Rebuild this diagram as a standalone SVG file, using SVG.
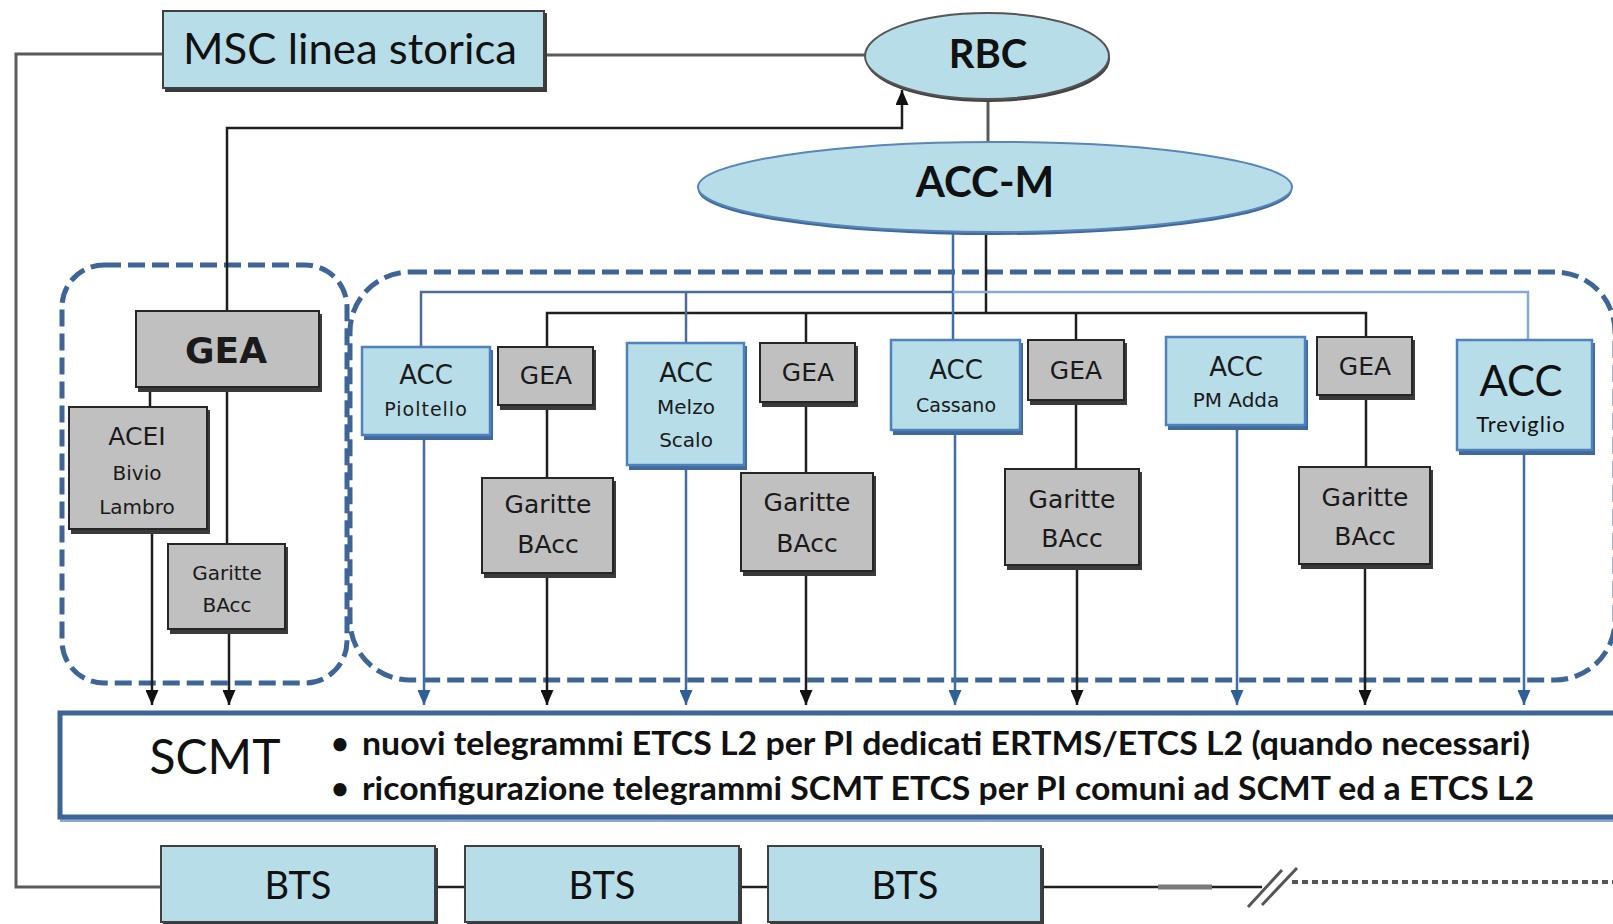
<svg xmlns="http://www.w3.org/2000/svg" width="1613" height="924" viewBox="0 0 1613 924">
<style>
.cal{font-family:Lato,"Open Sans","Liberation Sans",sans-serif;fill:#111}
.ver{font-family:"DejaVu Sans",Verdana,"Liberation Sans",sans-serif;fill:#1a1a1a}
.mid{text-anchor:middle}
.blue{fill:#b7dee8;stroke:#404040;stroke-width:2}
.blueacc{fill:#b7dee8;stroke:#4f81bd;stroke-width:2.5}
.gray{fill:#c0c0c0;stroke:#262626;stroke-width:2}
.shd{fill:#3a3a3a}
.shdb{fill:#3f6a9b}
.cont{fill:none;stroke:#3e6596;stroke-width:5;stroke-dasharray:17 7}
.k{fill:none;stroke:#1e1e1e;stroke-width:2.5}
.g{fill:none;stroke:#5a5a5a;stroke-width:3}
.b{fill:none;stroke:#3f6ea6;stroke-width:2.5}
.bl{fill:none;stroke:#86a9d6;stroke-width:2.5}
.bd{fill:none;stroke:#4a6c9a;stroke-width:2.5}
</style>
<defs>
<marker id="ak" markerUnits="userSpaceOnUse" markerWidth="15" markerHeight="13" viewBox="0 0 15 13" refX="15" refY="6.5" orient="auto"><path d="M0,0 L15,6.5 L0,13 z" fill="#111"/></marker>
<marker id="ab" markerUnits="userSpaceOnUse" markerWidth="15" markerHeight="13" viewBox="0 0 15 13" refX="15" refY="6.5" orient="auto"><path d="M0,0 L15,6.5 L0,13 z" fill="#2f5f99"/></marker>
</defs>

<!-- containers -->
<g id="containers">
<rect class="cont" x="62" y="265" width="285" height="418" rx="42"/>
<rect class="cont" x="350" y="272" width="1265" height="408" rx="60"/>
</g>

<!-- connectors -->
<g id="connectors">
<path class="g" d="M545,55 H866"/>
<path class="g" d="M163,54 H16 V887 H161"/>
<path class="k" d="M227,311 V128 H902 V90" marker-end="url(#ak)"/>
<path class="g" d="M988,99 V144" stroke-width="2"/>
<!-- ACC-M to black bus -->
<path class="k" d="M986,232 V313"/>
<path class="k" d="M547,347 V313 H1366 V337"/>
<path class="k" d="M806,313 V343"/>
<path class="k" d="M1076,313 V340"/>
<!-- blue bus -->
<path class="b" d="M953,233 V340" stroke="#5b8ccc"/>
<path class="bd" d="M421,347 V292 H953"/>
<path class="bd" d="M686,292 V343" stroke="#7ea3d3"/>
<path class="bl" d="M953,292 H1528 V340"/>
<!-- left container -->
<path class="k" d="M150,389 V407" stroke-width="2"/>
<path class="k" d="M227,389 V544" stroke-width="2"/>
<path class="k" d="M152,531 V705" marker-end="url(#ak)"/>
<path class="k" d="M229,631 V705" marker-end="url(#ak)"/>
<!-- GEA to Garitte -->
<path class="k" d="M547,407 V478"/>
<path class="k" d="M806,404 V473"/>
<path class="k" d="M1076,402 V469"/>
<path class="k" d="M1366,397 V467"/>
<!-- to SCMT -->
<path class="k" d="M547,575 V705" marker-end="url(#ak)"/>
<path class="k" d="M806,573 V705" marker-end="url(#ak)"/>
<path class="k" d="M1077,567 V705" marker-end="url(#ak)"/>
<path class="k" d="M1365,566 V705" marker-end="url(#ak)"/>
<path class="b" d="M424,437 V705" marker-end="url(#ab)"/>
<path class="b" d="M686,467 V705" marker-end="url(#ab)"/>
<path class="b" d="M955,432 V705" marker-end="url(#ab)"/>
<path class="b" d="M1237,427 V705" marker-end="url(#ab)"/>
<path class="b" d="M1524,452 V705" marker-end="url(#ab)"/>
<!-- BTS chain -->
<path class="k" d="M436,887 H465"/>
<path class="k" d="M740,887 H768"/>
<path class="k" d="M1042,887 H1262" stroke="#333"/>
<path d="M1158,887 H1212" stroke="#7a7a7a" stroke-width="5" fill="none"/>
<path d="M1248,907 L1282,870 M1262,905 L1297,868" stroke="#555" stroke-width="3" fill="none"/>
<path d="M1292,882 H1613" stroke="#555" stroke-width="4" stroke-dasharray="6 4" fill="none"/>
</g>

<!-- top nodes -->
<g id="msc">
<rect class="shd" x="165" y="13" width="382" height="79" fill="#444"/>
<rect class="blue" x="163" y="11" width="381" height="77"/>
<text class="cal mid" x="350" y="64" font-size="42" textLength="334" lengthAdjust="spacingAndGlyphs">MSC linea storica</text>
</g>
<g id="rbc">
<ellipse cx="988" cy="59" rx="122" ry="43" fill="#444"/>
<ellipse cx="987" cy="56" rx="122" ry="43" fill="#b7dee8" stroke="#555" stroke-width="2"/>
<text class="cal mid" x="988" y="68" font-size="40" font-weight="bold">RBC</text>
</g>
<g id="accm">
<ellipse cx="995" cy="190" rx="297" ry="45" fill="#3f6a9b"/>
<ellipse cx="995" cy="187" rx="297" ry="45" fill="#b7dee8" stroke="#5a85b8" stroke-width="2"/>
<text class="cal mid" x="985" y="197" font-size="42" font-weight="bold">ACC-M</text>
</g>

<!-- left container nodes -->
<g id="gea-main">
<rect class="shd" x="138" y="314" width="184" height="78"/>
<rect class="gray" x="136" y="311" width="183" height="76"/>
<text class="ver mid" x="226" y="363" font-size="36" font-weight="bold">GEA</text>
</g>
<g id="acei">
<rect class="shd" x="71" y="410" width="139" height="124"/>
<rect class="gray" x="69" y="407" width="138" height="122"/>
<text class="ver mid" x="137" y="445" font-size="25">ACEI</text>
<text class="ver mid" x="137" y="480" font-size="20">Bivio</text>
<text class="ver mid" x="137" y="514" font-size="20">Lambro</text>
</g>
<g id="garitte-lambro">
<rect class="shd" x="170" y="547" width="118" height="87"/>
<rect class="gray" x="168" y="544" width="117" height="85"/>
<text class="ver mid" x="227" y="580" font-size="20">Garitte</text>
<text class="ver mid" x="227" y="612" font-size="20">BAcc</text>
</g>

<!-- right container nodes -->
<g id="acc-pioltello">
<rect class="shdb" x="364" y="350" width="129" height="90"/>
<rect class="blueacc" x="362" y="347" width="128" height="88"/>
<text class="ver mid" x="426" y="384" font-size="26">ACC</text>
<text class="ver mid" x="426" y="416" font-size="19" letter-spacing="1">Pioltello</text>
</g>
<g id="gea-2">
<rect class="shd" x="500" y="350" width="96" height="60"/>
<rect class="gray" x="498" y="347" width="95" height="58"/>
<text class="ver mid" x="546" y="384" font-size="25">GEA</text>
</g>
<g id="garitte-2">
<rect class="shd" x="484" y="481" width="132" height="97"/>
<rect class="gray" x="482" y="478" width="131" height="95"/>
<text class="ver mid" x="548" y="513" font-size="25">Garitte</text>
<text class="ver mid" x="548" y="553" font-size="25">BAcc</text>
</g>
<g id="acc-melzo">
<rect class="shdb" x="629" y="346" width="118" height="124"/>
<rect class="blueacc" x="627" y="343" width="117" height="122"/>
<text class="ver mid" x="686" y="382" font-size="26">ACC</text>
<text class="ver mid" x="686" y="414" font-size="20">Melzo</text>
<text class="ver mid" x="686" y="447" font-size="20">Scalo</text>
</g>
<g id="gea-3">
<rect class="shd" x="762" y="346" width="96" height="61"/>
<rect class="gray" x="760" y="343" width="95" height="59"/>
<text class="ver mid" x="808" y="381" font-size="25">GEA</text>
</g>
<g id="garitte-3">
<rect class="shd" x="743" y="476" width="133" height="100"/>
<rect class="gray" x="741" y="473" width="132" height="98"/>
<text class="ver mid" x="807" y="511" font-size="25">Garitte</text>
<text class="ver mid" x="807" y="552" font-size="25">BAcc</text>
</g>
<g id="acc-cassano">
<rect class="shdb" x="893" y="343" width="130" height="92"/>
<rect class="blueacc" x="891" y="340" width="129" height="90"/>
<text class="ver mid" x="956" y="379" font-size="26">ACC</text>
<text class="ver mid" x="956" y="412" font-size="19">Cassano</text>
</g>
<g id="gea-4">
<rect class="shd" x="1030" y="343" width="97" height="62"/>
<rect class="gray" x="1028" y="340" width="96" height="60"/>
<text class="ver mid" x="1076" y="379" font-size="25">GEA</text>
</g>
<g id="garitte-4">
<rect class="shd" x="1007" y="472" width="135" height="98"/>
<rect class="gray" x="1005" y="469" width="134" height="96"/>
<text class="ver mid" x="1072" y="508" font-size="25">Garitte</text>
<text class="ver mid" x="1072" y="547" font-size="25">BAcc</text>
</g>
<g id="acc-pmadda">
<rect class="shdb" x="1168" y="340" width="140" height="90"/>
<rect class="blueacc" x="1166" y="337" width="139" height="88"/>
<text class="ver mid" x="1236" y="376" font-size="26">ACC</text>
<text class="ver mid" x="1236" y="407" font-size="20">PM Adda</text>
</g>
<g id="gea-5">
<rect class="shd" x="1319" y="340" width="96" height="60"/>
<rect class="gray" x="1317" y="337" width="95" height="58"/>
<text class="ver mid" x="1365" y="375" font-size="25">GEA</text>
</g>
<g id="garitte-5">
<rect class="shd" x="1301" y="470" width="132" height="99"/>
<rect class="gray" x="1299" y="467" width="131" height="97"/>
<text class="ver mid" x="1365" y="506" font-size="25">Garitte</text>
<text class="ver mid" x="1365" y="545" font-size="25">BAcc</text>
</g>
<g id="acc-treviglio">
<rect class="shdb" x="1459" y="343" width="136" height="112"/>
<rect class="blueacc" x="1457" y="340" width="135" height="110"/>
<text class="cal mid" x="1521" y="396" font-size="42">ACC</text>
<text class="cal mid" x="1521" y="432" font-size="22" letter-spacing="1">Treviglio</text>
</g>

<!-- SCMT -->
<g id="scmt">
<rect x="62" y="716" width="1570" height="104" fill="none" stroke="#8eaad0" stroke-width="4"/>
<rect x="60" y="713" width="1570" height="104" fill="#fff" stroke="#3e6596" stroke-width="5"/>
<text class="cal mid" x="215" y="774" font-size="48">SCMT</text>
<text class="cal mid" x="340" y="754" font-size="30" font-weight="bold">•</text>
<text class="cal mid" x="340" y="799" font-size="30" font-weight="bold">•</text>
<text class="cal" x="362" y="755" font-size="33" font-weight="bold" textLength="1168" lengthAdjust="spacingAndGlyphs">nuovi telegrammi ETCS L2 per PI dedicati ERTMS/ETCS L2 (quando necessari)</text>
<text class="cal" x="362" y="800" font-size="33" font-weight="bold" textLength="1172" lengthAdjust="spacingAndGlyphs">riconfigurazione telegrammi SCMT ETCS per PI comuni ad SCMT ed a ETCS L2</text>
</g>

<!-- BTS -->
<g id="bts-1">
<rect class="shd" x="163" y="848" width="275" height="78" fill="#444"/>
<rect class="blue" x="161" y="846" width="274" height="76"/>
<text class="cal mid" x="298" y="899" font-size="38">BTS</text>
</g>
<g id="bts-2">
<rect class="shd" x="467" y="848" width="275" height="78" fill="#444"/>
<rect class="blue" x="465" y="846" width="274" height="76"/>
<text class="cal mid" x="602" y="899" font-size="38">BTS</text>
</g>
<g id="bts-3">
<rect class="shd" x="770" y="848" width="274" height="78" fill="#444"/>
<rect class="blue" x="768" y="846" width="273" height="76"/>
<text class="cal mid" x="905" y="899" font-size="38">BTS</text>
</g>
</svg>
